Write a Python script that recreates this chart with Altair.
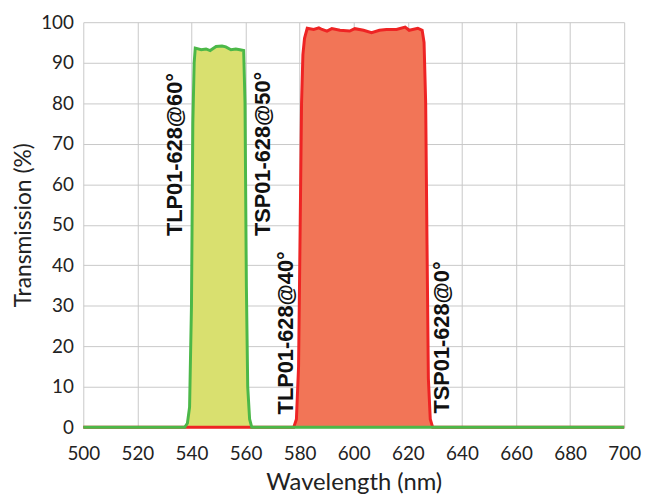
import altair as alt
import pandas as pd

# Green series (TLP01-628@60° / TSP01-628@50° band)
green_wl = [500, 520, 537.5, 538.5, 539.3, 540, 540.5, 541, 541.4, 543.6, 545.4, 546.9, 549.1,
            551.3, 552.7, 554.6, 556.4, 557.9, 559.3, 559.8, 560.3, 560.8, 561.5, 562.3, 580, 620, 700]
green_t = [0, 0, 0, 1, 5, 30, 75, 90, 93.6, 93.2, 93.4, 93.0, 94.0,
           94.1, 93.9, 93.2, 93.4, 93.2, 93.0, 80, 35, 10, 2, 0, 0, 0, 0]

# Red series (TLP01-628@40° / TSP01-628@0° band)
red_wl = [500, 540, 560, 577.8, 578.8, 579.6, 580.2, 580.7, 581.2, 581.8, 582.8, 585.2, 587.1, 588.3,
          590.1, 591.9, 594.9, 598.5, 600.4, 603.6, 606.6, 609.5, 612.1, 615.8, 619.0, 620.5,
          623.7, 625.3, 626.0, 626.6, 627.1, 627.6, 628.3, 629.2, 660, 700]
red_t = [0, 0, 0, 0, 2, 15, 50, 80, 92, 96, 98.5, 98.2, 98.6, 98.2,
         97.8, 98.4, 98.0, 97.8, 98.4, 98.0, 97.4, 98.0, 98.2, 98.2, 98.8, 98.0,
         98.5, 98.0, 95, 80, 45, 12, 2, 0, 0, 0]

label_text = ["TLP01-628@60°", "TSP01-628@50°", "TLP01-628@40°", "TSP01-628@0°"]
label_x = [533.8, 566.6, 574.9, 632.6]
label_y = [47.2, 47.2, 3.2, 3.4]

green = pd.DataFrame({"wl": green_wl, "t": green_t})
red = pd.DataFrame({"wl": red_wl, "t": red_t})
labels = pd.DataFrame({"text": label_text, "wl": label_x, "t": label_y})

FONT = "Lato"

x_enc = alt.X("wl:Q", scale=alt.Scale(domain=[500, 700], nice=False),
              axis=alt.Axis(title="Wavelength (nm)", values=list(range(500, 701, 20)),
                            tickSize=0, labelPadding=17, domain=False,
                            labelFontSize=19, titleFontSize=24, titlePadding=8,
                            labelFont=FONT, titleFont=FONT, titleFontWeight="normal",
                            labelColor="#222222", titleColor="#222222",
                            gridColor="#c8c8c8", labelFlush=False))
y_enc = alt.Y("t:Q", scale=alt.Scale(domain=[0, 100], nice=False),
              axis=alt.Axis(title="Transmission (%)", values=list(range(0, 101, 10)),
                            tickSize=0, labelPadding=10, domain=False,
                            labelFontSize=19, titleFontSize=23, titlePadding=5,
                            labelFont=FONT, titleFont=FONT, titleFontWeight="normal",
                            labelColor="#222222", titleColor="#222222",
                            gridColor="#c8c8c8"))

red_area = alt.Chart(red).mark_area(color="#f27557", opacity=1).encode(x=x_enc, y=y_enc)
green_area = alt.Chart(green).mark_area(color="#d9e06f", opacity=1).encode(x="wl:Q", y="t:Q")
red_line = alt.Chart(red).mark_line(color="#ee2424", strokeWidth=3).encode(x="wl:Q", y="t:Q")
green_line = alt.Chart(green).mark_line(color="#4cb848", strokeWidth=3).encode(x="wl:Q", y="t:Q")

text = alt.Chart(labels).mark_text(angle=270, align="left", baseline="middle",
                                   font="Liberation Sans", fontWeight="bold",
                                   fontSize=22, color="#111111").encode(
    x="wl:Q", y="t:Q", text="text:N")

chart = alt.layer(red_area, green_area, red_line, green_line, text).properties(
    width=546, height=409,
    autosize=alt.AutoSizeParams(type="none"),
    padding={"left": 76, "top": 12, "right": 20, "bottom": 70},
).configure_view(strokeWidth=0)

chart.save("out.html", embed_options={"renderer": "svg", "actions": False})
